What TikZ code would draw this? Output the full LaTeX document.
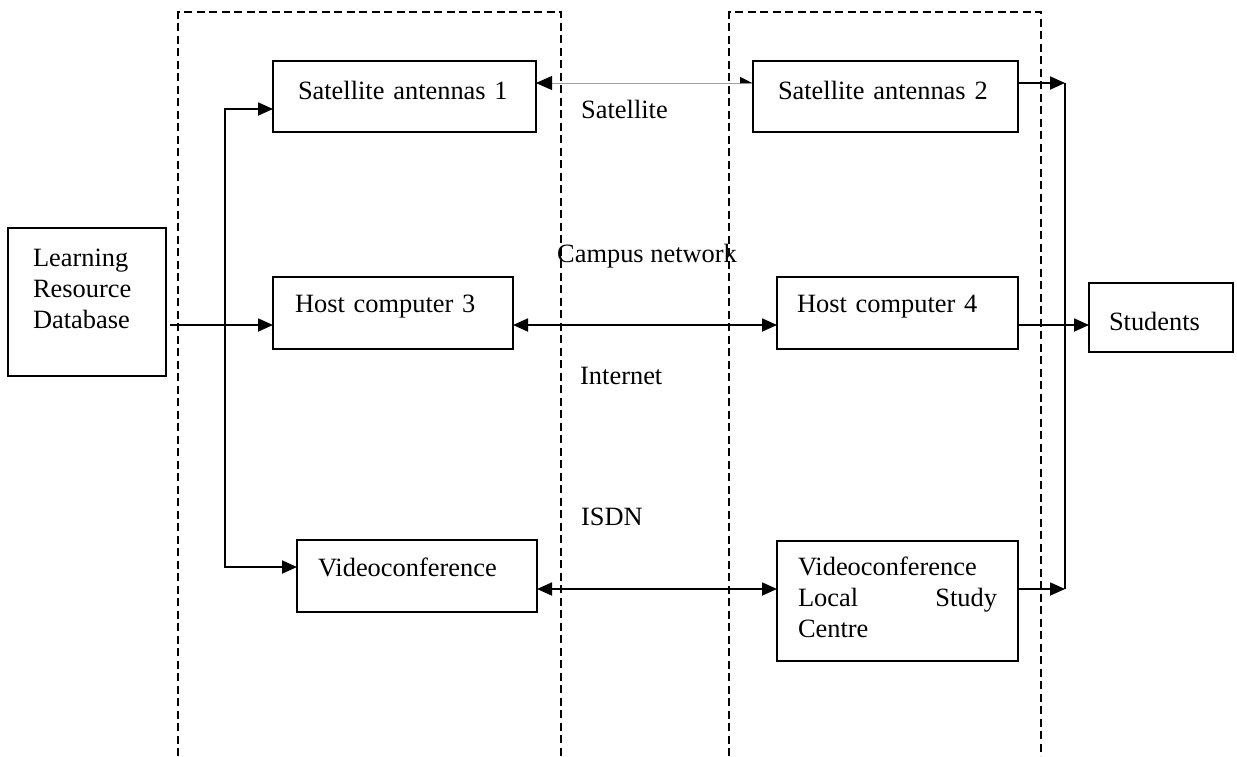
\documentclass[tikz,border=0pt]{standalone}
\usepackage{fontspec}
\setmainfont{Liberation Serif}
\usetikzlibrary{arrows.meta}
\definecolor{linkgrey}{HTML}{A0A0A0}

\begin{document}
\begin{tikzpicture}[x=1pt, y=-1pt,
    font=\fontsize{26.4pt}{31pt}\selectfont,
    >={Triangle[length=15pt, width=13pt]},
    unitbox/.style={draw, line width=1.6pt, anchor=north west, align=left,
      inner ysep=0pt, outer sep=0pt},
    zone/.style={line width=1.3pt, dash pattern=on 8pt off 4.5pt},
    link/.style={line width=1.8pt},
    flow/.style={->, line width=1.8pt},
    duplex/.style={<->, line width=1.8pt},
    tag/.style={anchor=base west, inner sep=0pt}]
  \useasboundingbox (0,0) rectangle (1237,756);

  % dashed frames
  \draw[zone] (178,756) |- (561,12) -- (561,756);
  \draw[zone] (729,756) |- (1041,12) -- (1041,756);

  \node[unitbox, inner xsep=25pt, text width=108pt, text height=38pt, text depth=110pt]
    (lrd) at (8,228) {Learning\\Resource\\Database};
  \node[unitbox, inner xsep=25pt, text width=213pt, text height=38pt, text depth=33pt]
    (sat1) at (273,61) {Satellite antennas 1};
  \node[unitbox, inner xsep=25pt, text width=215pt, text height=38pt, text depth=33pt]
    (sat2) at (753,61) {Satellite antennas 2};
  \node[unitbox, inner xsep=22pt, text width=196pt, text height=35pt, text depth=37pt]
    (host3) at (273,277) {Host computer 3};
  \node[unitbox, inner xsep=20pt, text width=201pt, text height=35pt, text depth=37pt]
    (host4) at (777,277) {Host computer 4};
  \node[unitbox, inner xsep=21pt, text width=198pt, text height=36pt, text depth=36pt]
    (video) at (297,540) {Videoconference};
  \node[unitbox, inner xsep=21pt, text width=199pt, text height=34pt, text depth=86pt]
    (vlsc) at (777,541) {Videoconference\\Local\hskip 0pt plus 1fill Study\\Centre};
  \node[unitbox, inner xsep=20pt, text width=104pt, text height=47pt, text depth=22pt]
    (students) at (1089,283) {Students};

  % link names
  \node[tag] (satlabel) at (581,118) {Satellite};
  \node[tag] (campuslabel) at (557,262) {Campus network};
  \node[tag] (netlabel) at (580,384) {Internet};
  \node[tag] (isdnlabel) at (581,525) {ISDN};

  \coordinate (fork) at (225,325);
  \coordinate (merge) at (1065,325);
  \coordinate (sat2out) at ([yshift=13.5pt]sat2.east);
  \coordinate (vlscout) at ([yshift=12pt]vlsc.east);

  \draw[flow, shorten <=4pt] (lrd.east |- fork) -- ([yshift=-12pt]host3.west);
  \draw[flow] (fork) |- ([yshift=-12.5pt]sat1.west);
  \draw[flow] (fork) |- ([yshift=9pt]video.west);

  \draw[linkgrey, line width=0.8pt,
    {Triangle[length=16pt, width=14pt, color=black]}-{Triangle[length=12pt, width=12pt, left, color=black]}]
    ([yshift=13.5pt]sat1.east) -- ([yshift=13.5pt]sat2.west);
  \draw[duplex] ([yshift=-12pt]host3.east) -- ([yshift=-12pt]host4.west);
  \draw[duplex] ([yshift=-13pt]video.east) -- ([yshift=12pt]vlsc.west);

  \draw[flow] (sat2out) -- (sat2out -| merge);
  \draw[flow] (vlscout) -- (vlscout -| merge);
  \draw[link] (sat2out -| merge) -- (vlscout -| merge);
  \draw[flow] ([yshift=-12pt]host4.east) -- ([yshift=-7.5pt]students.west);
\end{tikzpicture}
\end{document}
